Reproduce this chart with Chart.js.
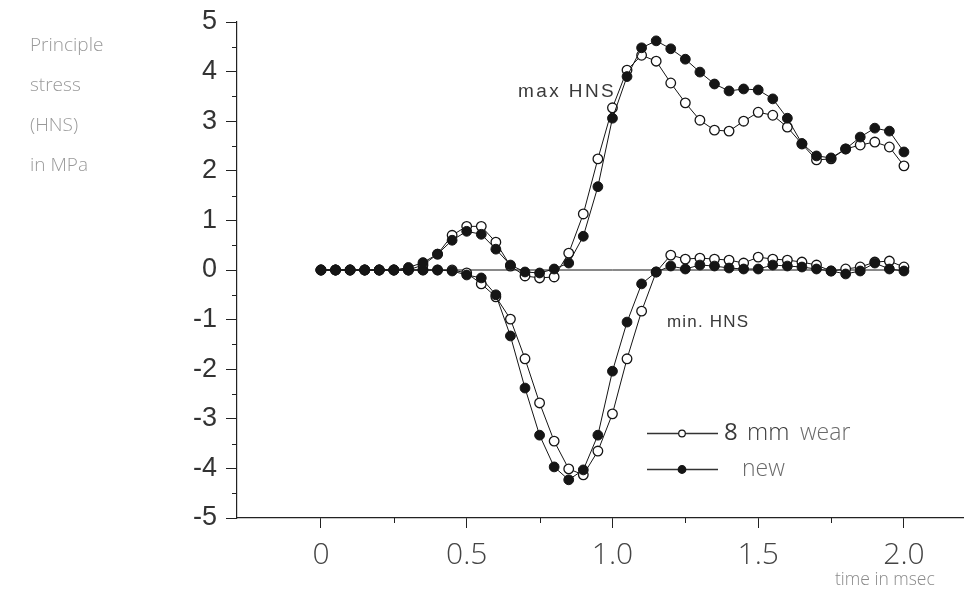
<!DOCTYPE html>
<html>
<head>
<meta charset="utf-8">
<title>Principle stress (HNS)</title>
<script src="https://cdn.jsdelivr.net/npm/chart.js@4.4.1/dist/chart.umd.min.js"></script>
<style>
  html, body { margin: 0; padding: 0; background: #fff; }
  #stressChart { display: block; }
</style>
</head>
<body>
<canvas id="stressChart" width="964" height="596"></canvas>
<script>
// time axis in msec, one sample every 0.05
const timeMs = [0, 0.05, 0.1, 0.15, 0.2, 0.25, 0.3, 0.35, 0.4, 0.45, 0.5, 0.55, 0.6, 0.65, 0.7, 0.75, 0.8, 0.85, 0.9, 0.95,
  1.0, 1.05, 1.1, 1.15, 1.2, 1.25, 1.3, 1.35, 1.4, 1.45, 1.5, 1.55, 1.6, 1.65, 1.7, 1.75, 1.8, 1.85, 1.9, 1.95, 2.0];

// 8 mm wear (open circles)
const wearMax = [0, 0, 0, 0, 0, 0, 0, 0.1, 0.32, 0.7, 0.88, 0.88, 0.56, 0.08, -0.12, -0.16, -0.14, 0.34, 1.13, 2.24,
  3.27, 4.03, 4.33, 4.21, 3.77, 3.37, 3.02, 2.82, 2.8, 3.0, 3.18, 3.12, 2.88, 2.54, 2.22, 2.24, 2.44, 2.52, 2.58, 2.48, 2.1];
const wearMin = [0, 0, 0, 0, 0, 0, 0, 0, 0, 0, -0.06, -0.28, -0.54, -0.99, -1.79, -2.68, -3.45, -4.01, -4.13, -3.65,
  -2.9, -1.79, -0.83, -0.04, 0.3, 0.22, 0.24, 0.22, 0.2, 0.14, 0.26, 0.22, 0.2, 0.16, 0.1, -0.02, 0.02, 0.06, 0.16, 0.18, 0.06];

// new (filled dots)
const newMax = [0, 0, 0, 0, 0, 0, 0.05, 0.15, 0.32, 0.6, 0.78, 0.72, 0.42, 0.1, -0.04, -0.06, 0.02, 0.14, 0.68, 1.68,
  3.06, 3.9, 4.48, 4.62, 4.46, 4.25, 3.99, 3.75, 3.61, 3.65, 3.63, 3.45, 3.06, 2.55, 2.3, 2.26, 2.44, 2.68, 2.86, 2.8, 2.38];
const newMin = [0, 0, 0, 0, 0, 0, 0, 0, 0, -0.02, -0.1, -0.16, -0.5, -1.33, -2.38, -3.33, -3.97, -4.23, -4.03, -3.33,
  -2.04, -1.05, -0.28, -0.04, 0.08, 0.02, 0.1, 0.08, 0.04, 0.02, 0.02, 0.1, 0.08, 0.06, 0.02, -0.02, -0.08, -0.02, 0.14, 0.02, -0.02];

const xTicks = [0, 0.5, 1.0, 1.5, 2.0];
const xMinorTicks = [0.25, 0.75, 1.25, 1.75];
const yTicks = [-5, -4, -3, -2, -1, 0, 1, 2, 3, 4, 5];
const yMinorTicks = [-4.5, -3.5, -2.5, -1.5, -0.5, 0.5, 1.5, 2.5, 3.5, 4.5];

const toPoints = vals => vals.map((v, i) => ({ x: timeMs[i], y: v }));

const INK = '#151515';

const openStyle = {
  borderColor: INK, borderWidth: 1, pointRadius: 4.8, pointBorderWidth: 1.3,
  pointBackgroundColor: '#fff', pointBorderColor: INK, showLine: true, tension: 0
};
const filledStyle = {
  borderColor: INK, borderWidth: 1, pointRadius: 4.9, pointBorderWidth: 1,
  pointBackgroundColor: INK, pointBorderColor: INK, showLine: true, tension: 0
};

// minor ticks, labels inside the plot, legend and axis captions
const decorations = {
  id: 'decorations',
  afterDraw(chart) {
    const { ctx, scales: { x, y } } = chart;
    ctx.save();
    ctx.strokeStyle = '#222';
    ctx.lineWidth = 1;
    ctx.beginPath();
    xMinorTicks.forEach(v => {
      const px = Math.round(x.getPixelForValue(v)) + 0.5;
      ctx.moveTo(px, y.bottom);
      ctx.lineTo(px, y.bottom + 5);
    });
    yMinorTicks.forEach(v => {
      const py = Math.round(y.getPixelForValue(v)) + 0.5;
      ctx.moveTo(x.left, py);
      ctx.lineTo(x.left - 5, py);
    });
    ctx.stroke();

    // curve labels
    ctx.fillStyle = '#3a3a3a';
    ctx.textBaseline = 'middle';
    ctx.textAlign = 'left';
    ctx.font = '19px "Liberation Sans", Arial, sans-serif';
    ctx.letterSpacing = '2.4px';
    ctx.fillText('max HNS', 518, 92);
    ctx.font = '17px "Liberation Sans", Arial, sans-serif';
    ctx.letterSpacing = '1.2px';
    ctx.fillText('min. HNS', 667, 322);
    ctx.letterSpacing = '0px';

    // legend
    const rows = [
      { y: 433, filled: false, text: 'wear', textX: 800 },
      { y: 469, filled: true, text: 'new', textX: 742 }
    ];
    rows.forEach(r => {
      ctx.strokeStyle = '#333';
      ctx.lineWidth = 1.3;
      ctx.beginPath();
      ctx.moveTo(647, r.y + 0.5);
      ctx.lineTo(718, r.y + 0.5);
      ctx.stroke();
      ctx.beginPath();
      ctx.arc(682, r.y + 0.5, r.filled ? 3.8 : 3.3, 0, Math.PI * 2);
      ctx.fillStyle = r.filled ? INK : '#fff';
      ctx.fill();
      ctx.lineWidth = 1.2;
      ctx.strokeStyle = INK;
      ctx.stroke();
      if (!r.filled) {
        ctx.fillStyle = '#3a3a3a';
        ctx.font = '24px "Open Sans", sans-serif';
        ctx.fillText('8', 724, r.y);
        ctx.font = '300 24px "Open Sans", sans-serif';
        ctx.fillText('mm', 747, r.y);
      }
      ctx.fillStyle = '#6a6a6a';
      ctx.font = '300 23px "Open Sans", sans-serif';
      ctx.fillText(r.text, r.textX, r.y);
    });

    // axis captions
    ctx.fillStyle = '#9a9a9a';
    ctx.font = '300 19px "Open Sans", sans-serif';
    ['Principle', 'stress', '(HNS)', 'in MPa'].forEach((line, i) => {
      ctx.fillText(line, 30, 46 + i * 40);
    });
    ctx.fillStyle = '#8a8a8a';
    ctx.font = '300 17.5px "Open Sans", sans-serif';
    ctx.fillText('time in msec', 835, 580);
    ctx.restore();
  }
};

new Chart(document.getElementById('stressChart'), {
  type: 'scatter',
  data: {
    datasets: [
      { label: 'new max', data: toPoints(newMax), ...filledStyle },
      { label: 'new min', data: toPoints(newMin), ...filledStyle },
      { label: '8 mm wear max', data: toPoints(wearMax), ...openStyle },
      { label: '8 mm wear min', data: toPoints(wearMin), ...openStyle },
      {
        label: 'zero', data: [{ x: 0, y: 0 }, { x: 2.0, y: 0 }],
        showLine: true, borderColor: INK, borderWidth: 1, pointRadius: 0
      }
    ]
  },
  options: {
    responsive: false,
    animation: false,
    devicePixelRatio: 1,
    layout: { autoPadding: false, padding: { top: 22, right: 0, left: 0, bottom: 0 } },
    plugins: { legend: { display: false }, tooltip: { enabled: false } },
    scales: {
      x: {
        type: 'linear',
        min: -0.288,
        max: 2.206,
        afterFit: s => {
          s.height = 78;
          s.paddingLeft = 0;
          s.paddingRight = 0;
        },
        afterBuildTicks: s => { s.ticks = xTicks.map(v => ({ value: v })); },
        border: { display: true, color: '#222', width: 1.2 },
        grid: { display: true, drawOnChartArea: false, drawTicks: true, tickLength: 10, color: '#222' },
        ticks: {
          padding: 9,
          color: '#444',
          font: { family: '"Open Sans", sans-serif', size: 30, weight: 300 },
          callback: v => (v === 0 ? '0' : v.toFixed(1))
        }
      },
      y: {
        type: 'linear',
        min: -5,
        max: 5,
        afterFit: s => {
          s.width = 237;
          s.paddingTop = 0;
          s.paddingBottom = 0;
        },
        afterBuildTicks: s => { s.ticks = yTicks.map(v => ({ value: v })); },
        border: { display: true, color: '#222', width: 1.2 },
        grid: { display: true, drawOnChartArea: false, drawTicks: true, tickLength: 11, color: '#222' },
        ticks: {
          padding: 9,
          color: '#333',
          font: { family: '"Liberation Sans", Arial, sans-serif', size: 27 },
          callback: v => String(v)
        }
      }
    }
  },
  plugins: [decorations]
});
</script>
</body>
</html>
